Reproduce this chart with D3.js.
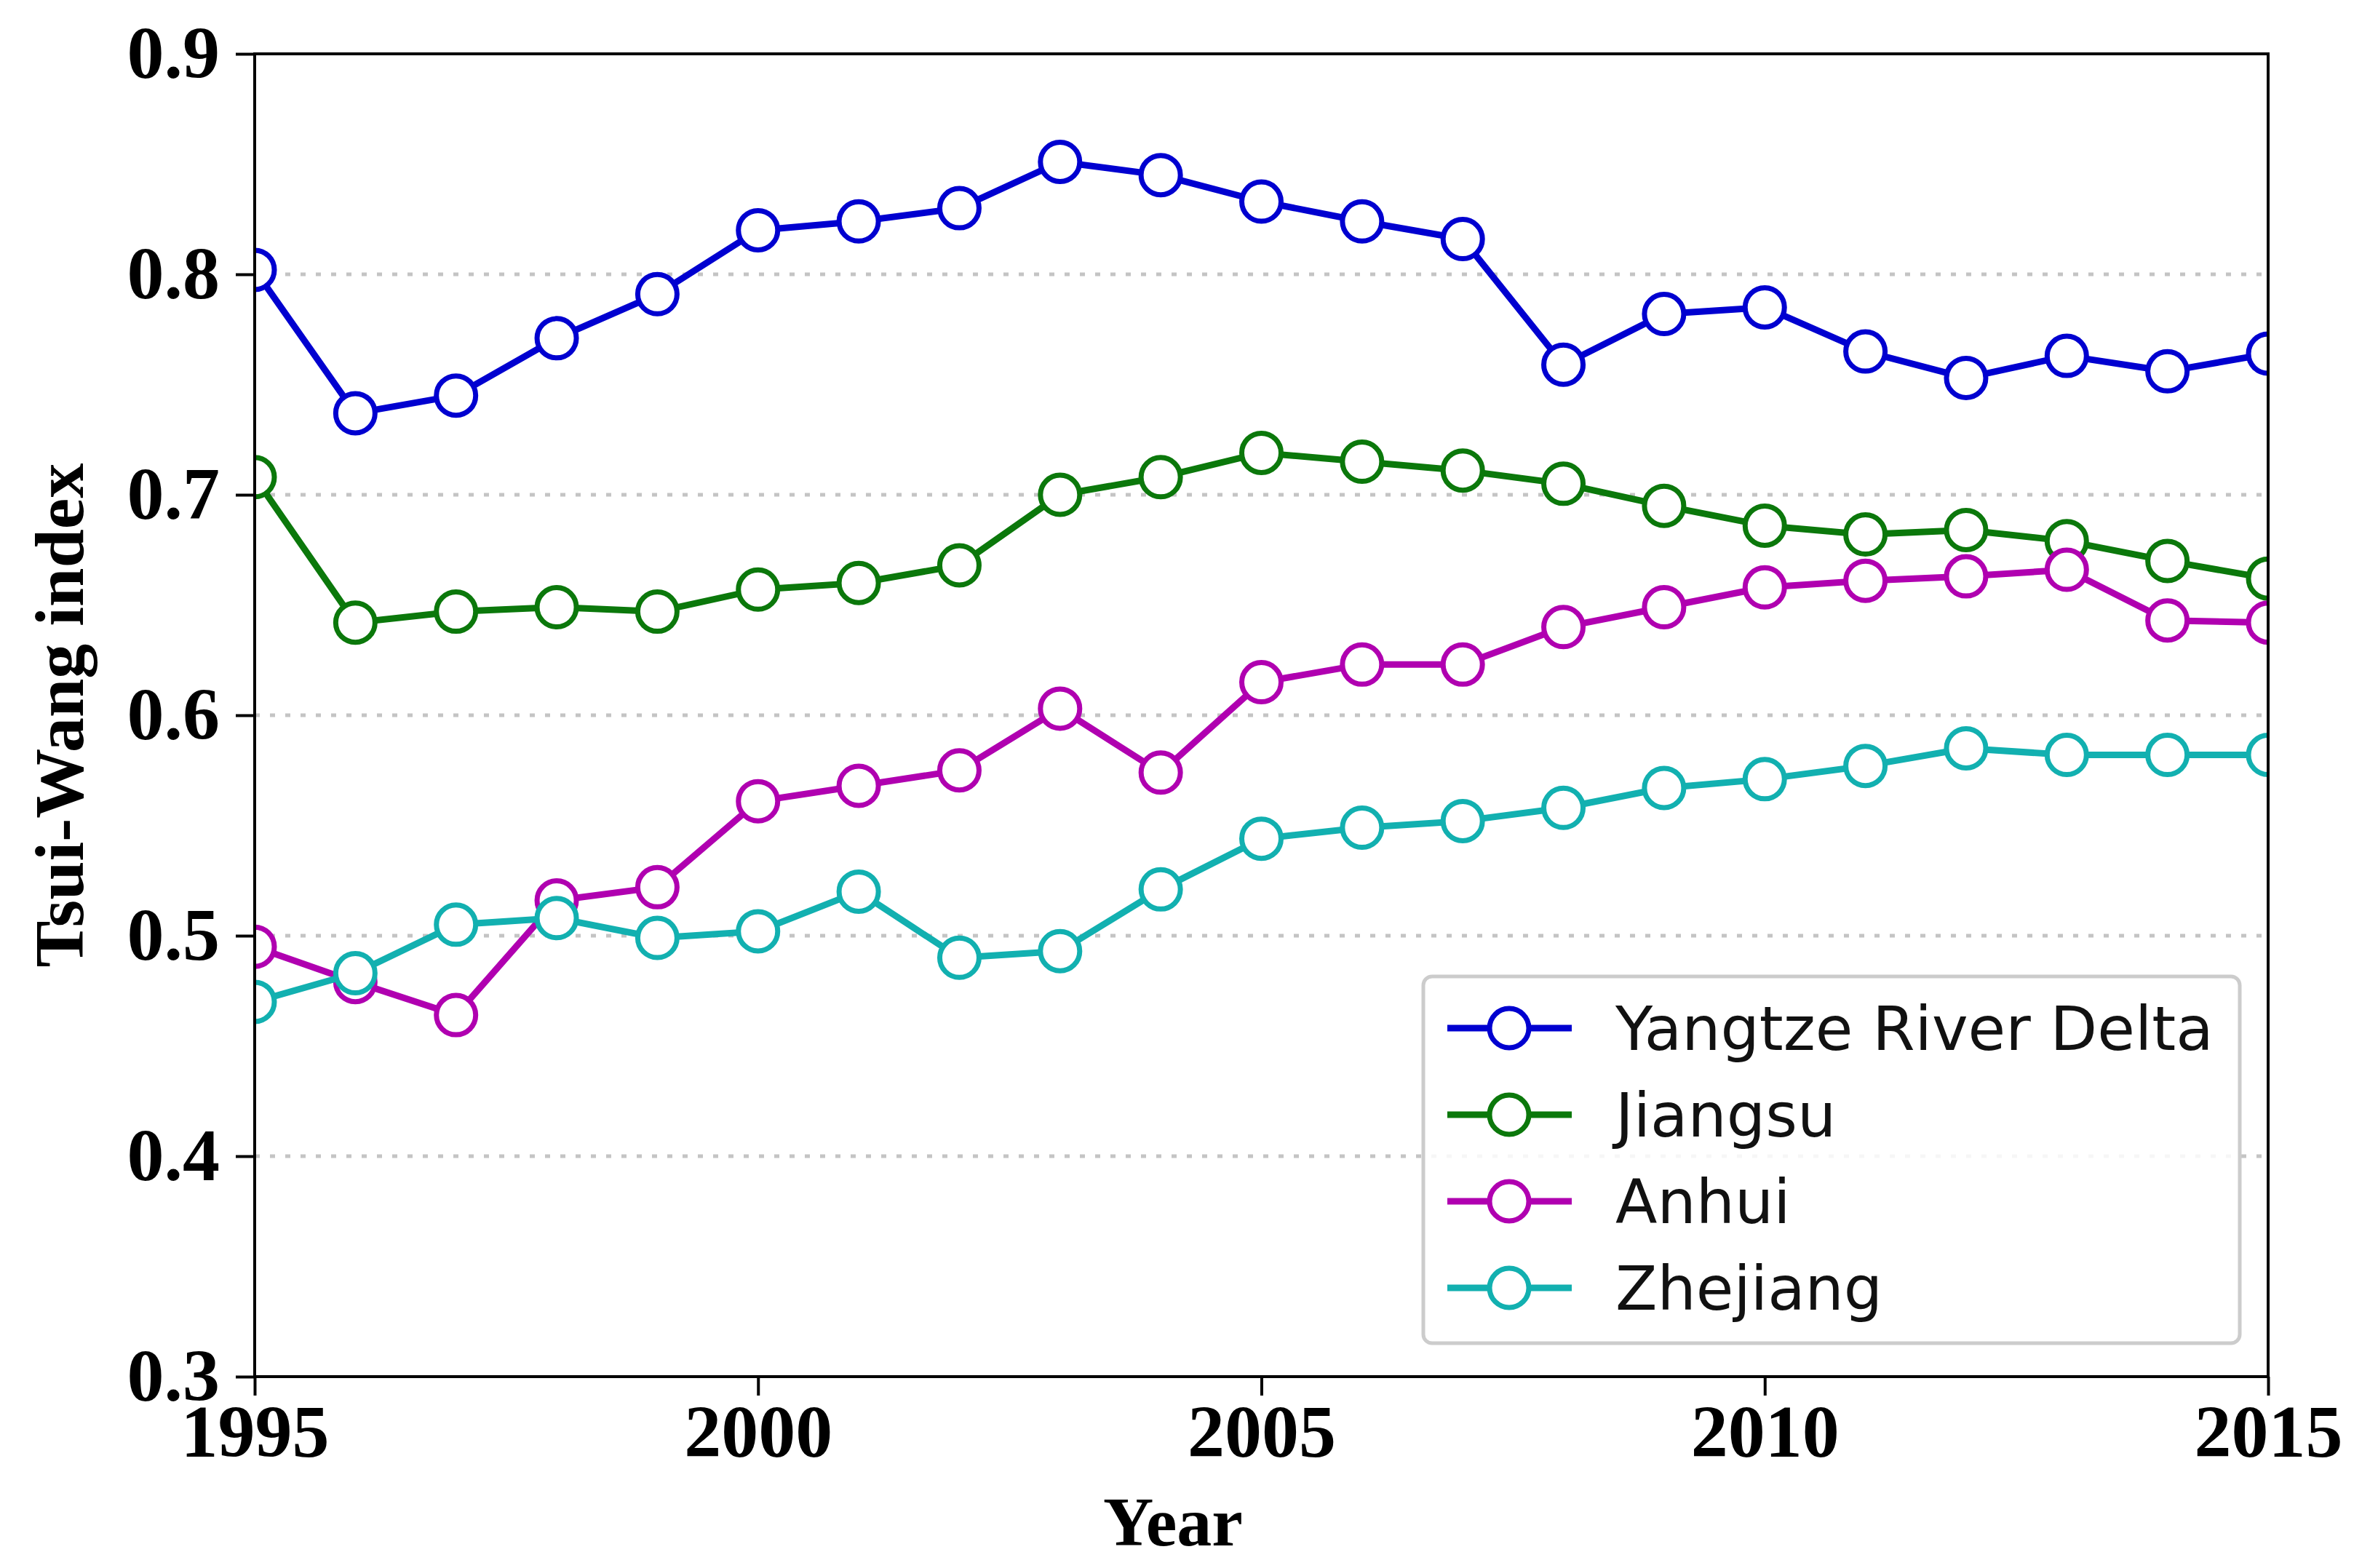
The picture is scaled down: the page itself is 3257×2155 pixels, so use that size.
<!DOCTYPE html>
<html>
<head>
<meta charset="utf-8">
<script src="https://cdn.jsdelivr.net/npm/d3@7"></script>
<style>
  body { margin: 0; background: #fff; }
</style>
</head>
<body>
<div id="chart"></div>
<script>
// data
var years = d3.range(1995, 2016);
var seriesNames = ["Yangtze River Delta", "Jiangsu", "Anhui", "Zhejiang"];
var seriesColors = ["#0000d0", "#0b780b", "#b000b0", "#12b0b0"];

var yrd = [0.802, 0.737, 0.745, 0.771, 0.791, 0.820, 0.824, 0.830, 0.851, 0.845,
           0.833, 0.824, 0.816, 0.759, 0.782, 0.785, 0.765, 0.753, 0.763, 0.756, 0.764];
var jiangsu = [0.708, 0.642, 0.647, 0.649, 0.647, 0.657, 0.660, 0.668, 0.700, 0.708,
               0.719, 0.715, 0.711, 0.705, 0.695, 0.686, 0.682, 0.684, 0.679, 0.670, 0.662];
var anhui = [0.495, 0.479, 0.464, 0.516, 0.522, 0.561, 0.568, 0.575, 0.603, 0.574,
             0.615, 0.623, 0.623, 0.640, 0.649, 0.658, 0.661, 0.663, 0.666, 0.643, 0.642];
var zhejiang = [0.470, 0.483, 0.505, 0.508, 0.499, 0.502, 0.520, 0.490, 0.493, 0.521,
                0.544, 0.549, 0.552, 0.558, 0.567, 0.571, 0.577, 0.585, 0.582, 0.582, 0.582];

var xTicks = [1995, 2000, 2005, 2010, 2015];
var yTicks = [0.3, 0.4, 0.5, 0.6, 0.7, 0.8, 0.9];

var allSeries = [yrd, jiangsu, anhui, zhejiang];

var W = 3257, H = 2155;
var margin = {top: 74, right: 140, bottom: 263, left: 350};
var width = W - margin.left - margin.right;
var height = H - margin.top - margin.bottom;

var svg = d3.select("#chart")
    .append("svg")
    .attr("width", W)
    .attr("height", H);

var graph = svg.append("g")
    .attr("transform", "translate(" + margin.left + "," + margin.top + ")");

var x = d3.scaleLinear().domain([1995, 2015]).range([0, width]);
var y = d3.scaleLinear().domain([0.3, 0.9]).range([height, 0]);

svg.append("defs").append("clipPath")
    .attr("id", "plotclip")
    .append("rect")
    .attr("width", width)
    .attr("height", height);

// dotted grid
graph.append("g")
    .selectAll("line")
    .data(yTicks.slice(1, -1))
    .enter()
    .append("line")
    .attr("x1", 0)
    .attr("x2", width)
    .attr("y1", function (d) { return y(d); })
    .attr("y2", function (d) { return y(d); })
    .attr("stroke", "#c4c4c4")
    .attr("stroke-width", 5)
    .attr("stroke-dasharray", "7,14");

// axes
var tickFont = "'Liberation Serif', 'Times New Roman', serif";

var xAxisGroup = graph.append("g")
    .attr("transform", "translate(0," + height + ")")
    .call(d3.axisBottom(x).tickValues(xTicks).tickFormat(d3.format("d"))
        .tickSize(26).tickPadding(12));

var yAxisGroup = graph.append("g")
    .call(d3.axisLeft(y).tickValues(yTicks).tickFormat(d3.format(".1f"))
        .tickSize(26).tickPadding(22));

[xAxisGroup, yAxisGroup].forEach(function (g) {
    g.select(".domain").remove();
    g.selectAll("line").attr("stroke", "#000").attr("stroke-width", 4);
    g.selectAll("text")
        .attr("fill", "#000")
        .attr("font-family", tickFont)
        .attr("font-weight", "bold")
        .attr("font-size", "102px");
});

// lines and markers
var line = d3.line()
    .x(function (d, i) { return x(years[i]); })
    .y(function (d) { return y(d); });

var plot = graph.append("g").attr("clip-path", "url(#plotclip)");

allSeries.forEach(function (s, k) {
    plot.append("path")
        .datum(s)
        .attr("fill", "none")
        .attr("stroke", seriesColors[k])
        .attr("stroke-width", 9)
        .attr("stroke-linejoin", "round")
        .attr("d", line);
    plot.selectAll(".dot" + k)
        .data(s)
        .enter()
        .append("circle")
        .attr("class", "dot" + k)
        .attr("cx", function (d, i) { return x(years[i]); })
        .attr("cy", function (d) { return y(d); })
        .attr("r", 27)
        .attr("fill", "#fff")
        .attr("stroke", seriesColors[k])
        .attr("stroke-width", 7);
});

// frame
graph.append("rect")
    .attr("width", width)
    .attr("height", height)
    .attr("fill", "none")
    .attr("stroke", "#000")
    .attr("stroke-width", 4);

// axis titles
graph.append("text")
    .attr("x", 1612 - margin.left)
    .attr("y", height + 232)
    .attr("text-anchor", "middle")
    .attr("font-family", tickFont)
    .attr("font-weight", "bold")
    .attr("font-size", "96px")
    .text("Year");

graph.append("text")
    .attr("transform", "rotate(-90)")
    .attr("x", -height / 2)
    .attr("y", -236)
    .attr("text-anchor", "middle")
    .attr("font-family", tickFont)
    .attr("font-weight", "bold")
    .attr("font-size", "96px")
    .text("Tsui-Wang index");

// legend
var legX = 1956 - margin.left, legY = 1342 - margin.top;
var legend = graph.append("g")
    .attr("transform", "translate(" + legX + "," + legY + ")");

legend.append("rect")
    .attr("width", 1122)
    .attr("height", 504)
    .attr("rx", 12)
    .attr("fill", "#fff")
    .attr("fill-opacity", 0.85)
    .attr("stroke", "#cccccc")
    .attr("stroke-width", 5);

seriesNames.forEach(function (name, k) {
    var row = legend.append("g")
        .attr("transform", "translate(0," + (71 + k * 119) + ")");
    row.append("line")
        .attr("x1", 33).attr("x2", 204)
        .attr("stroke", seriesColors[k])
        .attr("stroke-width", 9);
    row.append("circle")
        .attr("cx", 118)
        .attr("r", 27)
        .attr("fill", "#fff")
        .attr("stroke", seriesColors[k])
        .attr("stroke-width", 7);
    row.append("text")
        .attr("x", 264)
        .attr("dy", "0.36em")
        .attr("font-family", "'DejaVu Sans', sans-serif")
        .attr("font-size", "84px")
        .attr("fill", "#111")
        .text(name);
});
</script>
</body>
</html>
